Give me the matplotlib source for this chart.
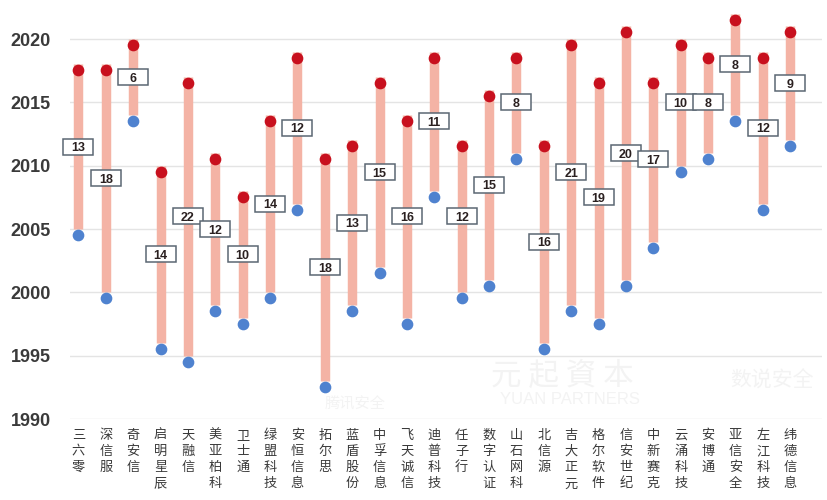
import matplotlib
matplotlib.use("Agg")
import matplotlib.pyplot as plt
from matplotlib import transforms
from matplotlib.patches import Rectangle

# Security companies: founding year, listing year and the year span shown in the boxes
companies = ["三六零", "深信服", "奇安信", "启明星辰", "天融信", "美亚柏科", "卫士通",
             "绿盟科技", "安恒信息", "拓尔思", "蓝盾股份", "中孚信息", "飞天诚信",
             "迪普科技", "任子行", "数字认证", "山石网科", "北信源", "吉大正元",
             "格尔软件", "信安世纪", "中新赛克", "云涌科技", "安博通", "亚信安全",
             "左江科技", "纬德信息"]
founded = [2005, 2000, 2014, 1996, 1995, 1999, 1998, 2000, 2007, 1993,
           1999, 2002, 1998, 2008, 2000, 2001, 2011, 1996, 1999, 1998,
           2001, 2004, 2010, 2011, 2014, 2007, 2012]
listed = [2018, 2018, 2020, 2010, 2017, 2011, 2008, 2014, 2019, 2011,
          2012, 2017, 2014, 2019, 2012, 2016, 2019, 2012, 2020, 2017,
          2021, 2017, 2020, 2019, 2022, 2019, 2021]
span_labels = ["13", "18", "6", "14", "22", "12", "10", "14", "12", "18",
               "13", "15", "16", "11", "12", "15", "8", "16", "21", "19",
               "20", "17", "10", "8", "8", "12", "9"]
year_ticks = [1990, 1995, 2000, 2005, 2010, 2015, 2020]

BAR = "#F4B3A5"
RED = "#C8101E"
BLUE = "#4F82CF"
GRID = "#E4E4E4"
TEXT = "#3A3A3A"
CJK = ["Noto Sans CJK SC", "DejaVu Sans"]

W, H = 828, 500
fig = plt.figure(figsize=(W / 100, H / 100), dpi=100)
fig.patch.set_facecolor("white")
ax = fig.add_axes([70 / W, 81 / H, 752 / W, 409 / H])

xs = list(range(len(companies)))
ax.set_xlim(-0.31, 27.16)
ax.set_ylim(1990, 2022.3)

# grid
ax.set_yticks(year_ticks)
ax.grid(axis="y", color=GRID, linewidth=1.0, zorder=0)
ax.set_axisbelow(True)
for s in ax.spines.values():
    s.set_visible(False)

# faint logo text in the background
wm = "#F3F3F3"
fig.text(562 / W, 1 - 376 / H, "元 起 資 本", fontsize=22, color=wm,
         ha="center", va="center", family=CJK, zorder=0)
fig.text(570 / W, 1 - 399 / H, "YUAN PARTNERS", fontsize=12, color=wm,
         ha="center", va="center", family="Liberation Sans", zorder=0)
fig.text(772 / W, 1 - 381 / H, "数说安全", fontsize=15, color=wm,
         ha="center", va="center", family=CJK, zorder=0)
fig.text(355 / W, 1 - 404 / H, "腾讯安全", fontsize=11, color=wm,
         ha="center", va="center", family=CJK, zorder=0)

# span bars
ax.vlines(xs, founded, listed, colors=BAR, linewidth=6.8, zorder=2,
          capstyle="butt")

# end-point dots sit half a year below the bar ends
dot_tr = transforms.offset_copy(ax.transData, fig=fig, x=0, y=-4.2, units="points")
ax.plot(xs, listed, linestyle="none", marker="o", markersize=7.4,
        markerfacecolor=RED, markeredgecolor=RED, transform=dot_tr, zorder=4,
        clip_on=False)
ax.plot(xs, founded, linestyle="none", marker="o", markersize=7.4,
        markerfacecolor=BLUE, markeredgecolor=BLUE, transform=dot_tr, zorder=4,
        clip_on=False)

# boxed span labels at the middle of each bar
bw, bh = 0.30, 0.16
for i, (f, l, lab) in enumerate(zip(founded, listed, span_labels)):
    ym = (f + l) / 2
    tr = fig.dpi_scale_trans + transforms.ScaledTranslation(i, ym, ax.transData)
    ax.add_patch(Rectangle((-bw / 2, -bh / 2), bw, bh, transform=tr,
                           facecolor="white", edgecolor="#5B6773",
                           linewidth=1.1, zorder=5, clip_on=False))
    ax.text(i, ym, lab, ha="center", va="center_baseline", fontsize=9,
            fontweight="bold", color="#2A2020", family="Liberation Sans",
            zorder=6)

# axis labels
ax.set_xticks(xs)
ax.set_xticklabels(["\n".join(name) for name in companies], family=CJK,
                   fontsize=9.5, color=TEXT, va="top", linespacing=1.32)
ax.tick_params(axis="x", length=0, pad=7)
ax.set_yticklabels([str(y) for y in year_ticks], family="Liberation Sans",
                   fontsize=13, fontweight="bold", color=TEXT)
ax.tick_params(axis="y", length=0, pad=14)

fig.savefig("out.png", dpi=100, facecolor="white")
